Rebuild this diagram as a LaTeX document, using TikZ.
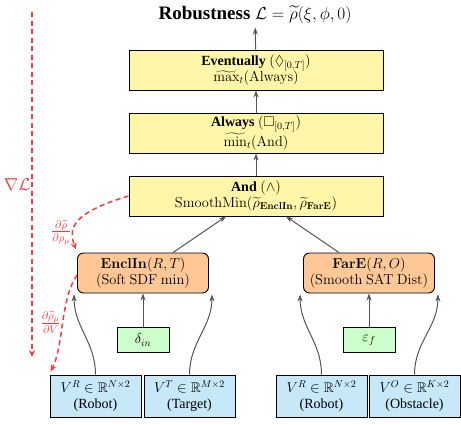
\documentclass[tikz,border=0pt]{standalone}
\usepackage{amsmath,amssymb}
\usepackage[no-math]{fontspec}
\setmainfont{Liberation Serif}
\usetikzlibrary{arrows.meta,calc}
\definecolor{ylw}{RGB}{255,246,168}
\definecolor{org}{RGB}{253,200,150}
\definecolor{grn}{RGB}{204,255,204}
\definecolor{blu}{RGB}{198,232,248}
\definecolor{gradred}{RGB}{255,55,60}
\definecolor{arrgray}{RGB}{85,85,85}
\begin{document}
\begin{tikzpicture}[x=1pt,y=1pt,
  box/.style={draw=black,line width=0.9pt,align=center,inner sep=1pt,font=\fontsize{14}{16}\selectfont},
  ybox/.style={box,fill=ylw,minimum width=254pt,minimum height=40pt},
  obox/.style={box,fill=org,rounded corners=6pt,minimum width=131pt,minimum height=40pt},
  gbox/.style={box,fill=grn,minimum width=52pt,minimum height=25pt},
  bbox/.style={box,fill=blu,minimum width=91pt,minimum height=42pt},
  arr/.style={-{Stealth[length=7pt,width=5pt]},draw=arrgray,line width=1pt},
  grad/.style={-{Stealth[length=7pt,width=6pt]},draw=gradred,line width=1.5pt,dash pattern=on 5pt off 3.5pt},
  glabel/.style={text=gradred,font=\fontsize{16}{17}\selectfont,inner sep=1pt}
]
\useasboundingbox (0,0) rectangle (461,-424);

\node[font=\fontsize{19}{21}\selectfont] (title) at (255,-15) {\textbf{Robustness} $\mathcal{L}=\widetilde{\rho}(\xi,\phi,0)$};

\node[ybox] (ev) at (256,-70) {\textbf{Eventually} $(\Diamond_{[0,T]})$\\ $\widetilde{\max}_t(\mathrm{Always})$};
\node[ybox] (al) at (256,-133) {\textbf{Always} $(\Box_{[0,T]})$\\ $\widetilde{\min}_t(\mathrm{And})$};
\node[ybox] (and) at (256,-196) {\textbf{And} $(\wedge)$\\ $\mathrm{SmoothMin}(\widetilde{\rho}_{\mathbf{EnclIn}},\widetilde{\rho}_{\mathbf{FarE}})$};

\node[obox] (enc) at (143,-273) {$\mathbf{EnclIn}(R,T)$\\ $(\mathrm{Soft\ SDF\ min})$};
\node[obox] (far) at (369,-273) {$\mathbf{FarE}(R,O)$\\ $(\mathrm{Smooth\ SAT\ Dist})$};

\node[gbox] (del) at (143,-340) {$\delta_{in}$};
\node[gbox] (eps) at (369,-340) {$\varepsilon_f$};

\node[bbox] (vr) at (95.5,-396) {$V^R\in\mathbb{R}^{N\times 2}$\\ (Robot)};
\node[bbox] (vt) at (189.5,-396) {$V^T\in\mathbb{R}^{M\times 2}$\\ (Target)};
\node[bbox] (vr2) at (321.5,-396) {$V^R\in\mathbb{R}^{N\times 2}$\\ (Robot)};
\node[bbox] (vo) at (414.5,-396) {$V^O\in\mathbb{R}^{K\times 2}$\\ (Obstacle)};

\draw[arr] (ev) -- (title);
\draw[arr] (al) -- (ev);
\draw[arr] (and) -- (al);
\draw[arr] (enc) -- (and);
\draw[arr] (far) -- (and);
\draw[arr] (del) -- (enc);
\draw[arr] (eps) -- (far);
\draw[arr] (vr.north) to[out=90,in=-90] ($(enc.south west)+(-3,-1)$);
\draw[arr] (vt.north) to[out=90,in=-90] ($(enc.south east)+(3,-1)$);
\draw[arr] (vr2.north) to[out=90,in=-90] ($(far.south west)+(-3,-1)$);
\draw[arr] (vo.north) to[out=90,in=-90] ($(far.south east)+(3,-1)$);

\coordinate (gtop) at (32,-12);
\coordinate (gbot) at (32,-357);
\draw[grad] (gtop) -- node[glabel,left,pos=0.5] {$\nabla\mathcal{L}$} (gbot);
\draw[grad] (and.west) .. controls (72,-213) and (68,-228) .. node[glabel,left,pos=0.72] {$\frac{\partial\widetilde{\rho}}{\partial\rho_\mu}$} ($(enc.north west)+(-1,3)$);
\draw[grad] ($(enc.west)+(0,-2)$) .. controls (60,-300) and (64,-345) .. node[glabel,left,pos=0.5] {$\frac{\partial\widetilde{\rho}_\mu}{\partial V}$} ($(vr.north west)+(1,3)$);
\end{tikzpicture}
\end{document}
